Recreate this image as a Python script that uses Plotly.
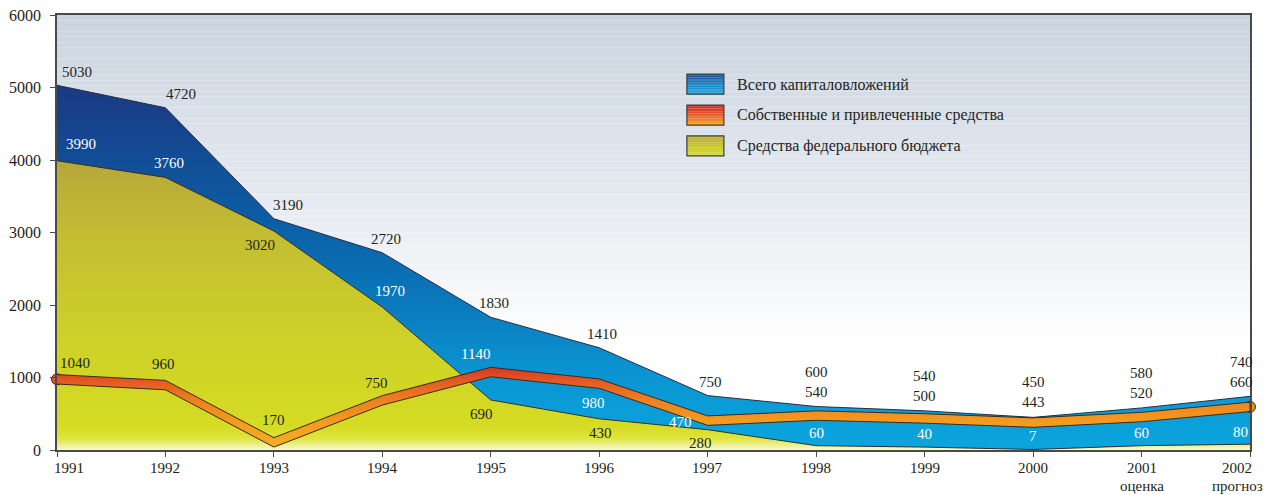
import plotly.graph_objects as go

# ---------------- data ----------------
years = [1991, 1992, 1993, 1994, 1995, 1996, 1997, 1998, 1999, 2000, 2001, 2002]
tick_text = ["1991", "1992", "1993", "1994", "1995", "1996", "1997", "1998",
             "1999", "2000", "2001", "2002"]
tick_sub = ["", "", "", "", "", "", "", "", "", "", "оценка", "прогноз"]
total = [5030, 4720, 3190, 2720, 1830, 1410, 750, 600, 540, 450, 580, 740]
own = [1040, 960, 170, 750, 1140, 980, 470, 540, 500, 443, 520, 660]
federal = [3990, 3760, 3020, 1970, 690, 430, 280, 60, 40, 7, 60, 80]
legend_names = ["Всего капиталовложений",
                "Собственные и привлеченные средства",
                "Средства федерального бюджета"]
y_ticks = [0, 1000, 2000, 3000, 4000, 5000, 6000]

# ---------------- style ----------------
FONT = "Liberation Serif"
TXT = "#231f20"
BAND = 130  # thickness of the own-funds band in axis units

def hex2rgb(h):
    h = h.lstrip("#")
    return tuple(int(h[i:i + 2], 16) for i in (0, 2, 4))

def mix(c1, c2, t):
    a, b = hex2rgb(c1), hex2rgb(c2)
    return "rgb(%d,%d,%d)" % tuple(round(a[i] + (b[i] - a[i]) * t) for i in range(3))

fig = go.Figure()

# total investments (blue gradient area)
fig.add_trace(go.Scatter(
    x=years, y=total, mode="lines", fill="tozeroy",
    line=dict(color="#2a2d3c", width=1),
    fillgradient=dict(type="vertical", start=0, stop=5200,
                      colorscale=[[0, "#0ba6df"], [0.2, "#0a95d2"], [0.4, "#0a78bb"],
                                  [0.6, "#0b5fa6"], [0.8, "#134a92"], [1, "#1c3580"]]),
    hoverinfo="skip", showlegend=False))

# federal budget (yellow gradient area)
fig.add_trace(go.Scatter(
    x=years, y=federal, mode="lines", fill="tozeroy",
    line=dict(color="#33302a", width=1),
    fillgradient=dict(type="vertical", start=0, stop=4000,
                      colorscale=[[0, "#f6f8d2"], [0.04, "#e0e43c"], [0.08, "#d5dc22"],
                                  [0.4, "#cdd028"], [0.75, "#c3bc32"], [1, "#b6a63a"]]),
    hoverinfo="skip", showlegend=False))

# own funds band: round end caps
band_bottom = [v - BAND for v in own]
cap_y = [own[0] - BAND / 2, own[-1] - BAND / 2]
fig.add_trace(go.Scatter(
    x=[years[0], years[-1]], y=cap_y, mode="markers", cliponaxis=False,
    marker=dict(size=11, color=["#e25422", "#ef8a1f"],
                line=dict(color="#3a2a20", width=1)),
    hoverinfo="skip", showlegend=False))

# own funds band body
fig.add_trace(go.Scatter(
    x=years + years[::-1], y=own + band_bottom[::-1], mode="lines", fill="toself",
    line=dict(color="#3a2a20", width=1),
    fillgradient=dict(type="vertical", start=0, stop=1300,
                      colorscale=[[0, "#f7b025"], [0.31, "#f39a1e"], [0.54, "#ec7f20"],
                                  [0.73, "#e35a24"], [0.85, "#da3c22"], [1, "#d42e20"]]),
    hoverinfo="skip", showlegend=False))

# ---------------- data labels ----------------
ann = []

def lab(x, y, text, color, xs, ys, anchor):
    ann.append(dict(x=x, y=y, text=text, showarrow=False, xanchor="center",
                    yanchor=anchor, xshift=xs, yshift=ys,
                    font=dict(family=FONT, size=15, color=color)))

tot_shift = [(20, 3), (16, 4), (14, 4), (4, 4), (3, 4), (3, 4), (3, 4),
             (0, 5), (0, 5), (0, 5), (0, 5), (-9, 4)]
for i, yr in enumerate(years):
    txt = str(total[i]) if i < 7 else "%d<br>%d" % (total[i], own[i])
    lab(yr, total[i], txt, TXT, tot_shift[i][0], tot_shift[i][1], "bottom")

own_style = [(TXT, 18, 2, "bottom"), (TXT, -2, 6, "bottom"), (TXT, 0, 8, "bottom"),
             (TXT, -6, 3, "bottom"), ("white", -15, 3, "bottom"),
             ("white", -6, -14, "top"), ("white", -27, -6, "middle")]
for i in range(7):
    c, xs, ys, a = own_style[i]
    lab(years[i], own[i], str(own[i]), c, xs, ys, a)

fed_style = [("white", 24, 7, "bottom"), ("white", 4, 4, "bottom"), (TXT, -14, -4, "top"),
             ("white", 8, 6, "bottom"), (TXT, -9, -4, "top"), (TXT, 1, -4, "top"),
             (TXT, -7, -3, "top"), ("white", 0, 3, "bottom"), ("white", 0, 3, "bottom"),
             ("white", 0, 3, "bottom"), ("white", 0, 3, "bottom"), ("white", -10, 2, "bottom")]
for i, yr in enumerate(years):
    c, xs, ys, a = fed_style[i]
    lab(yr, federal[i], str(federal[i]), c, xs, ys, a)

# x tick labels (as text under the axis so the end labels can sit inside the page)
xlab_shift = [12, 0, 0, 0, 0, 0, 0, 0, 0, 0, 0, -13]
for i, yr in enumerate(years):
    ann.append(dict(x=yr, y=0, text=tick_text[i], showarrow=False, xanchor="center",
                    yanchor="top", xshift=xlab_shift[i], yshift=-9, borderpad=0,
                    font=dict(family=FONT, size=15, color=TXT)))
    if tick_sub[i]:
        ann.append(dict(x=yr, y=0, text=tick_sub[i], showarrow=False, xanchor="center",
                        yanchor="bottom", xshift=xlab_shift[i], yshift=-45, borderpad=0,
                        font=dict(family=FONT, size=15, color=TXT)))

# ---------------- background gradient & legend (shapes) ----------------
shapes = []
N = 60
y0 = 0.25
for k in range(N):
    a = y0 + (1 - y0) * k / N
    b = y0 + (1 - y0) * (k + 1) / N
    t = ((a + b) / 2 - y0) / (1 - y0)
    shapes.append(dict(type="rect", xref="paper", yref="paper", x0=0, x1=1, y0=a, y1=b,
                       fillcolor=mix("#ffffff", "#cad4e0", t ** 0.9), line_width=0,
                       layer="below"))

legend_grad = [("#1a4c98", "#12b2ea"), ("#dc1e2a", "#f6a41e"), ("#bcab3a", "#d8e020")]
sw_x0, sw_x1 = 0.528, 0.559
sw_tops = [0.864, 0.793, 0.722]
sw_h = 0.046
M = 12
for j, (ctop, cbot) in enumerate(legend_grad):
    top = sw_tops[j]
    for k in range(M):
        a = top - sw_h * (k + 1) / M
        b = top - sw_h * k / M
        shapes.append(dict(type="rect", xref="paper", yref="paper", x0=sw_x0, x1=sw_x1,
                           y0=a, y1=b, fillcolor=mix(ctop, cbot, (k + 0.5) / M),
                           line_width=0))
    shapes.append(dict(type="rect", xref="paper", yref="paper", x0=sw_x0, x1=sw_x1,
                       y0=top - sw_h, y1=top, line=dict(color="#3c3c3c", width=1.2)))
    ann.append(dict(x=0.568, y=top - sw_h / 2, xref="paper", yref="paper",
                    text=legend_names[j], showarrow=False, xanchor="left",
                    yanchor="middle", font=dict(family=FONT, size=16, color=TXT)))

axis_common = dict(showline=True, linecolor="#4a4a4a", linewidth=1.5, mirror=True,
                   ticks="outside", ticklen=5, tickcolor="#4a4a4a", showgrid=False,
                   zeroline=False, automargin=False)

fig.update_layout(
    width=1266, height=495, autosize=False,
    margin=dict(l=57, r=16, t=15, b=45, autoexpand=False),
    paper_bgcolor="white", plot_bgcolor="white",
    xaxis=dict(range=[years[0], years[-1]], tickvals=years, showticklabels=False,
               **axis_common),
    yaxis=dict(range=[0, 6000], tickvals=y_ticks, ticklabelstandoff=6,
               tickfont=dict(family=FONT, size=16, color=TXT), **axis_common),
    shapes=shapes, annotations=ann, showlegend=False,
)

fig.write_html("out.html",
               config={"displayModeBar": False},
               post_script="document.body.style.margin='0px';"
                           "document.body.style.overflow='hidden';")
